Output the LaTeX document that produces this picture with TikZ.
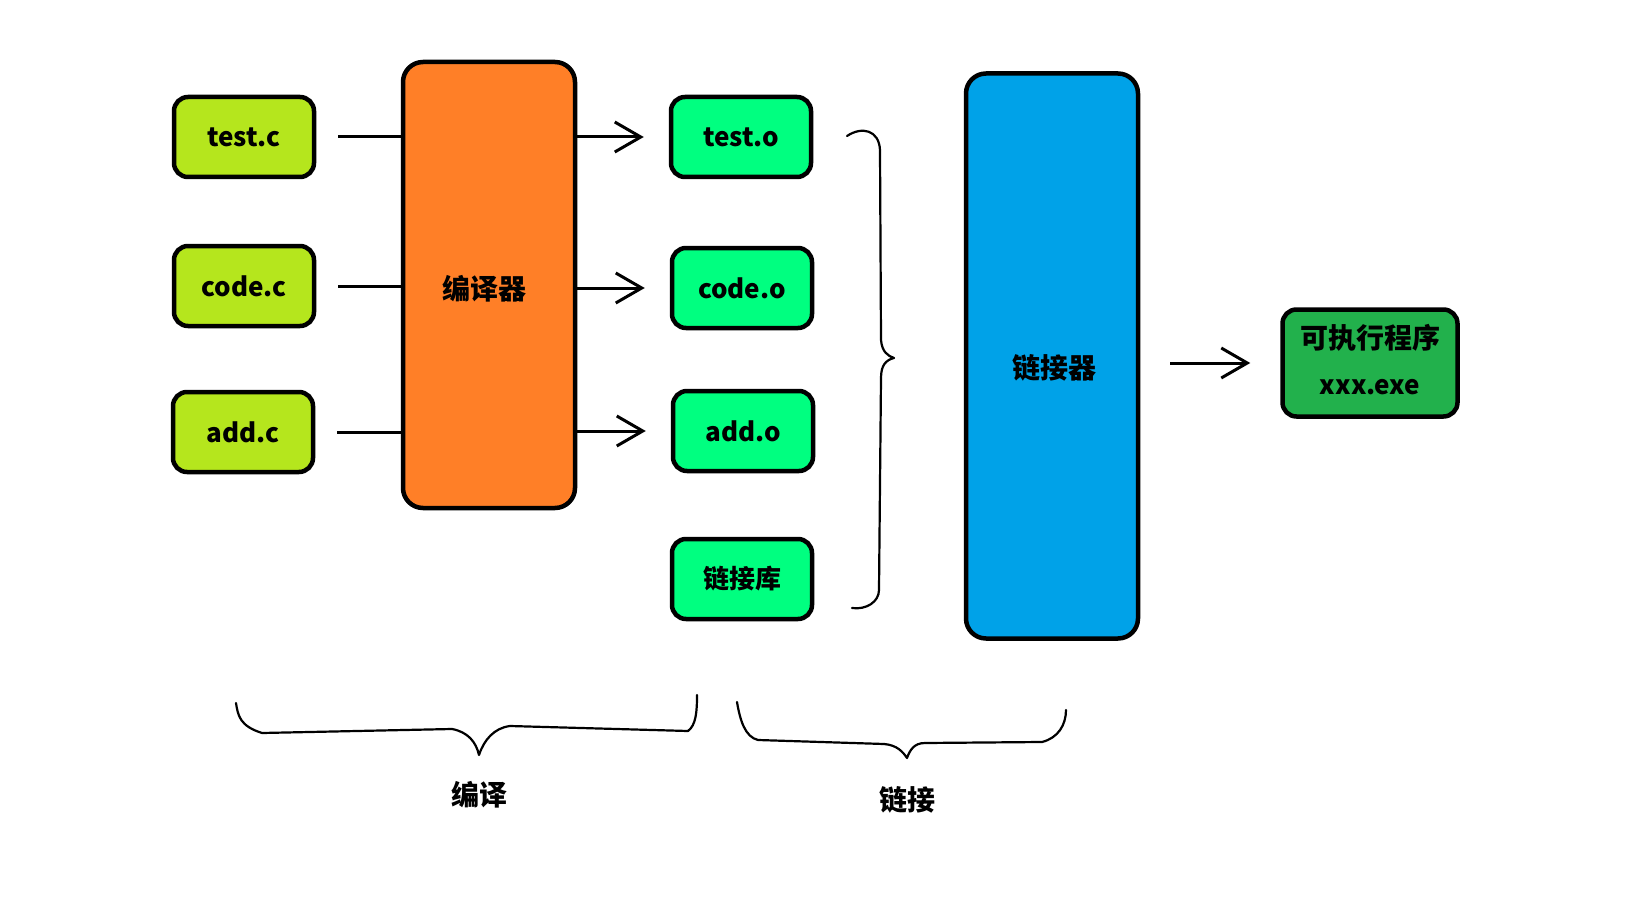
\documentclass[tikz,border=0pt]{standalone}
\usepackage{fontspec}
\setmainfont{Noto Sans CJK SC}
\usetikzlibrary{arrows.meta}
\definecolor{limeC}{HTML}{B5E61D}
\definecolor{springC}{HTML}{00FF80}
\definecolor{orangeC}{HTML}{FF7F27}
\definecolor{blueC}{HTML}{00A2E8}
\definecolor{greenC}{HTML}{22B14C}
\tikzset{
  box/.style={draw=black, line width=4.5pt, rounded corners=14pt, minimum width=140pt, minimum height=80pt,
    font=\fontsize{26}{30}\selectfont\bfseries, inner sep=0pt},
  srcbox/.style={box, fill=limeC},
  objbox/.style={box, fill=springC},
  bigbox/.style={draw=black, line width=4.5pt, rounded corners=20pt, inner sep=0pt},
  conn/.style={line width=3pt},
  arr/.style={line width=3pt, -{Straight Barb[length=26pt,width=30pt,line width=3pt]}},
  bracestyle/.style={line width=2.2pt, line join=round, line cap=round},
  lbl/.style={font=\fontsize{28}{30}\selectfont\bfseries, inner sep=0pt}
}
\begin{document}
\begin{tikzpicture}[x=1pt,y=-1pt]
\useasboundingbox (0,0) rectangle (1650,915);
% source files
\node[srcbox] (tc) at (244,137) {test.c};
\node[srcbox] (cc) at (244,286) {code.c};
\node[srcbox] (ac) at (243,432) {add.c};
% compiler
\node[bigbox, fill=orangeC, minimum width=172pt, minimum height=446pt] (comp) at (489,285) {};
\node[lbl] (compt) at (484,289) {编译器};
% object files
\node[objbox] (to) at (741,137) {test.o};
\node[objbox] (co) at (742,288) {code.o};
\node[objbox] (ao) at (743,431) {add.o};
\node[objbox] (lib) at (742,579) {链接库};
% linker
\node[bigbox, fill=blueC, minimum width=172pt, minimum height=565pt] (lnk) at (1052,356) {};
\node[lbl] (lnkt) at (1054,368) {链接器};
% executable
\node[box, fill=greenC, minimum width=175pt, minimum height=107pt, align=center] (exe) at (1370,363) {};
\node[lbl] (exet) at (1370,338) {可执行程序};
\node[lbl, font=\fontsize{26}{30}\selectfont\bfseries] (exen) at (1370,387) {xxx.exe};
% connectors into compiler
\draw[conn, shorten <=22pt] (tc.east) -- (comp.west |- tc.east);
\draw[conn, shorten <=22pt] (cc.east) -- (comp.west |- cc.east);
\draw[conn, shorten <=22pt] (ac.east) -- (comp.west |- ac.east);
% arrows out of compiler
\draw[arr, shorten >=25pt] (comp.east |- to.west) -- (to.west);
\draw[arr, shorten >=25pt] (comp.east |- co.west) -- (co.west);
\draw[arr, shorten >=25pt] (comp.east |- ao.west) -- (ao.west);
% arrow to executable
\draw[arr, shorten <=30pt, shorten >=30pt] (lnk.east |- exe.west) -- (exe.west);
% right brace
\draw[bracestyle] (847,136) .. controls (862,126) and (879,130) .. (880,150)
  -- (881,340) .. controls (882,352) and (888,356) .. (894,358)
  .. controls (886,360) and (881,365) .. (881,378)
  -- (879,590) .. controls (879,602) and (866,610) .. (852,608);
% bottom brace: compile
\draw[bracestyle] (236,703) .. controls (238,716) and (240,726) .. (262,733)
  -- (452,729) .. controls (468,732) and (476,742) .. (479,755)
  .. controls (484,740) and (494,728) .. (510,726)
  -- (688,731) .. controls (696,725) and (697,712) .. (697,695);
\node[lbl] (bianyi) at (479,795) {编译};
% bottom brace: link
\draw[bracestyle] (737,702) .. controls (740,720) and (745,737) .. (758,740)
  -- (884,744) .. controls (897,745) and (903,752) .. (907,758)
  .. controls (910,750) and (914,743) .. (925,743)
  -- (1042,742) .. controls (1058,738) and (1066,725) .. (1066,710);
\node[lbl] (lianjie) at (907,800) {链接};
\end{tikzpicture}
\end{document}
